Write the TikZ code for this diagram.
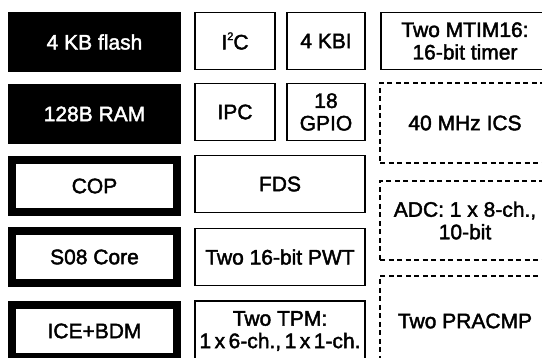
\documentclass[tikz,border=0pt]{standalone}
\usepackage{fontspec}
\setmainfont{Liberation Sans}[FakeBold=2]
\begin{document}
\begin{tikzpicture}[x=1pt, y=-1pt, font=\fontsize{21}{22.5}\selectfont,
  mem/.style={fill=black, text=white, minimum width=173pt, minimum height=60pt, inner sep=0pt},
  cpu/.style={draw, line width=8pt, minimum width=165pt, minimum height=52pt, inner sep=0pt},
  blk/.style={draw, line width=1.6pt, minimum height=57pt, inner sep=0pt, align=center},
  opt/.style={draw, dash pattern=on 5pt off 3.5pt, line width=1.3pt, minimum width=170pt, inner sep=0pt, align=center}]
  \useasboundingbox (0,0) rectangle (542,358);
  \clip (0,0) rectangle (542,358);
  % Nodes
  \node[mem] (flash) at (94.5,42) {4 KB flash};
  \node[mem] (ram) at (94.5,114) {128B RAM};
  \node[cpu] (cop) at (94.5,186) {COP};
  \node[cpu] (core) at (94.5,257) {S08 Core};
  \node[cpu] (bdm) at (94.5,331) {ICE+BDM};

  \node[blk, minimum width=80.4pt] (iic) at (235,41) {I\raisebox{0.45em}{\fontsize{11}{11}\selectfont 2}C};
  \node[blk, minimum width=78.4pt] (kbi) at (326,41) {4 KBI};
  \node[blk, minimum width=80.4pt] (ipc) at (235,112) {IPC};
  \node[blk, minimum width=78.4pt] (gpio) at (326,112) {18\\GPIO};
  \node[blk, minimum width=170.4pt] (fds) at (280,184) {FDS};
  \node[blk, minimum width=170.4pt] (pwt) at (280,257) {Two 16-bit PWT};
  \node[blk, minimum width=170.4pt, minimum height=60pt] (tpm) at (280,331) {Two TPM:\\1\,x\,6-ch.,\,1\,x\,1-ch.};

  \node[blk, minimum width=168.4pt] (mtim) at (465,41) {Two MTIM16:\\16-bit timer};
  \node[opt, minimum height=80pt] (ics) at (465,123) {40 MHz ICS};
  \node[opt, minimum height=79pt] (adc) at (465,220.5) {ADC: 1 x 8-ch.,\\10-bit};
  \node[opt, minimum height=90pt] (acmp) at (465,321) {Two PRACMP};
\end{tikzpicture}
\end{document}
